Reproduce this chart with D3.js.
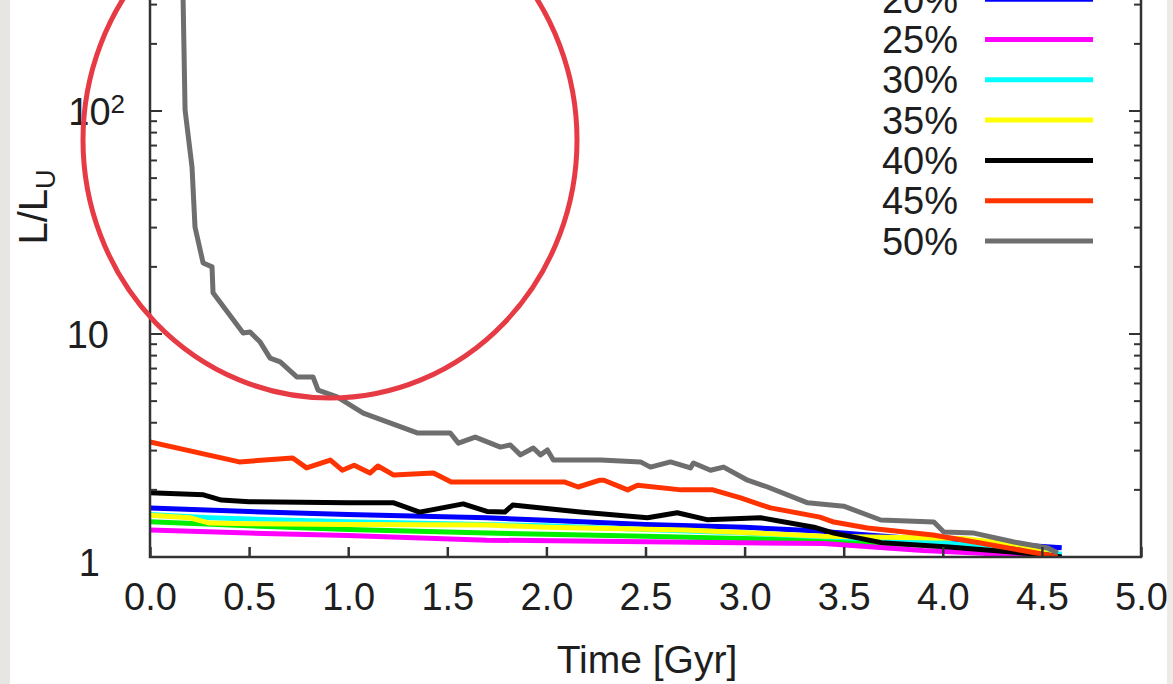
<!DOCTYPE html>
<html>
<head>
<meta charset="utf-8">
<script src="https://cdn.jsdelivr.net/npm/d3@7"></script>
<style>
  html, body { margin: 0; padding: 0; background: #fff; }
  svg { display: block; font-family: "Liberation Sans", Arial, Helvetica, sans-serif; }
</style>
</head>
<body>
<div id="chart"></div>
<script>
// series names (legend order, top of legend is cut off by the crop)
var seriesNames = ["15%", "20%", "25%", "30%", "35%", "40%", "45%", "50%"];

// each series: [time in Gyr, L/L_U]
var s15 = [[0, 1.44], [0.5, 1.38], [1.0, 1.33], [1.7, 1.28], [2.5, 1.24], [3.35, 1.19], [4.0, 1.12], [4.58, 1.0]];
var s20 = [[0, 1.66], [0.5, 1.60], [1.0, 1.55], [1.7, 1.50], [2.0, 1.46], [2.5, 1.40], [3.0, 1.36], [3.35, 1.31], [3.8, 1.22], [4.2, 1.16], [4.6, 1.10]];
var s25 = [[0, 1.32], [0.5, 1.28], [1.0, 1.25], [1.7, 1.19], [2.5, 1.17], [3.4, 1.15], [3.9, 1.07], [4.2, 1.04], [4.45, 1.0]];
var s30 = [[0, 1.55], [0.3, 1.50], [0.5, 1.48], [1.0, 1.44], [2.0, 1.38], [2.5, 1.33], [3.0, 1.28], [3.5, 1.22], [4.0, 1.16], [4.6, 1.03]];
var s35 = [[0, 1.54], [0.2, 1.50], [0.3, 1.42], [0.5, 1.41], [1.0, 1.40], [1.7, 1.39], [2.0, 1.36], [2.7, 1.32], [3.4, 1.24], [4.1, 1.21], [4.4, 1.13], [4.58, 1.0]];
var s40 = [[0, 1.94], [0.27, 1.90], [0.36, 1.80], [0.5, 1.77], [1.0, 1.75], [1.23, 1.75], [1.36, 1.59], [1.58, 1.73], [1.70, 1.60], [1.79, 1.59],
           [1.83, 1.71], [2.17, 1.59], [2.51, 1.50], [2.66, 1.58], [2.81, 1.47], [3.08, 1.50], [3.35, 1.36], [3.45, 1.28], [3.69, 1.16],
           [4.03, 1.11], [4.53, 1.02], [4.6, 1.0]];
var s45 = [[0, 3.28], [0.45, 2.67], [0.72, 2.78], [0.79, 2.51], [0.91, 2.72], [0.97, 2.45], [1.03, 2.58], [1.11, 2.38], [1.15, 2.56],
           [1.23, 2.33], [1.43, 2.38], [1.52, 2.17], [2.09, 2.17], [2.16, 2.06], [2.27, 2.21], [2.29, 2.21], [2.41, 2.0], [2.46, 2.10],
           [2.68, 2.0], [2.84, 2.0], [2.98, 1.84], [3.13, 1.66], [3.38, 1.51], [3.45, 1.435], [3.62, 1.35], [3.95, 1.255], [4.19, 1.155],
           [4.53, 1.02], [4.58, 1.0]];
var s50 = [[0.16, 400], [0.167, 315], [0.177, 101], [0.212, 56], [0.227, 30.2], [0.268, 20.8], [0.313, 20.0], [0.318, 15.3], [0.47, 10.1],
           [0.505, 10.2], [0.556, 9.2], [0.606, 7.8], [0.657, 7.5], [0.742, 6.41], [0.823, 6.41], [0.848, 5.6], [0.944, 5.22], [1.076, 4.42],
           [1.348, 3.60], [1.515, 3.60], [1.556, 3.24], [1.641, 3.45], [1.768, 3.11], [1.818, 3.18], [1.869, 2.87], [1.934, 3.08], [1.97, 2.87],
           [2.005, 3.02], [2.035, 2.72], [2.273, 2.72], [2.475, 2.67], [2.525, 2.53], [2.626, 2.67], [2.727, 2.51], [2.742, 2.64], [2.828, 2.45],
           [2.894, 2.53], [3.015, 2.21], [3.116, 2.06], [3.318, 1.75], [3.5, 1.69], [3.687, 1.465], [3.955, 1.435], [4.005, 1.295], [4.157, 1.28],
           [4.359, 1.167], [4.53, 1.097], [4.58, 1.042]];
var seriesValues = [s15, s20, s25, s30, s35, s40, s45, s50];

var xTicks = [0, 0.5, 1, 1.5, 2, 2.5, 3, 3.5, 4, 4.5, 5];
var yTicks = [1, 10, 100, 1000];
var yLabelTicks = [1, 10, 100];

var colors = ["#00ee00", "#0000ff", "#ff00ff", "#00ffff", "#ffff00", "#000000", "#ff3300", "#6e6e6e"];

var W = 1173, H = 684;
var left = 150, right = 1141, bottom = 557, decade = 223;
var fs = 38;

var svg = d3.select("#chart").append("svg")
  .attr("width", W)
  .attr("height", H);

// grey page edges
svg.append("rect").attr("x", 0).attr("y", 0).attr("width", 10).attr("height", H).attr("fill", "#e8e6e2");
svg.append("rect").attr("x", 1167).attr("y", 0).attr("width", 6).attr("height", H).attr("fill", "#ecebe8");

var x = d3.scaleLinear().domain([0, 5]).range([left, right]);
var y = d3.scaleLog().domain([1, 1000]).range([bottom, bottom - 3 * decade]);

svg.append("clipPath").attr("id", "clip")
  .append("rect")
  .attr("x", left).attr("y", y(1000))
  .attr("width", right - left).attr("height", bottom - y(1000));

// data lines
var line = d3.line()
  .x(function(d) { return x(d[0]); })
  .y(function(d) { return y(d[1]); });

svg.append("g").attr("clip-path", "url(#clip)")
  .selectAll("path")
  .data(seriesValues)
  .enter()
  .append("path")
    .attr("d", line)
    .attr("fill", "none")
    .attr("stroke", function(d, i) { return colors[i]; })
    .attr("stroke-width", 5)
    .attr("stroke-linejoin", "round");

// frame
svg.append("rect")
  .attr("x", left).attr("y", y(1000))
  .attr("width", right - left).attr("height", bottom - y(1000))
  .attr("fill", "none").attr("stroke", "#333").attr("stroke-width", 2.5);

// x axis (ticks point inward)
var xAxis = svg.append("g")
  .attr("transform", "translate(0," + bottom + ")")
  .call(d3.axisBottom(x).tickValues(xTicks).tickFormat(d3.format(".1f")).tickSizeInner(-10).tickSizeOuter(0).tickPadding(26));
xAxis.select(".domain").remove();
xAxis.selectAll("line").attr("stroke", "#333").attr("stroke-width", 2.5);
xAxis.selectAll("text").attr("font-size", fs).attr("fill", "#1e1e1e").attr("font-family", null);

// y axis major + minor ticks, left and right
var minor = y.ticks().filter(function(v) { return yTicks.indexOf(v) < 0; });
[left, right].forEach(function(px) {
  var dir = px === left ? 1 : -1;
  svg.append("g").selectAll("line")
    .data(yTicks.concat(minor))
    .enter().append("line")
      .attr("x1", px)
      .attr("x2", function(d) { return px + dir * (yTicks.indexOf(d) >= 0 ? 12 : 7); })
      .attr("y1", function(d) { return y(d); })
      .attr("y2", function(d) { return y(d); })
      .attr("stroke", "#333").attr("stroke-width", 2);
});

// y tick labels
var yLab = svg.append("g").attr("font-size", fs).attr("fill", "#1e1e1e");
yLabelTicks.forEach(function(v) {
  var e = Math.round(Math.log10(v));
  var t = yLab.append("text")
    .attr("y", y(v))
    .attr("dy", "0.36em")
    .attr("text-anchor", "end");
  if (e === 0) {
    t.attr("x", 100).attr("dy", "0.5em").text("1");
  } else if (e === 1) {
    t.attr("x", 109).text("10");
  } else {
    t.attr("x", 125);
    t.append("tspan").text("10");
    t.append("tspan").attr("dy", "-0.45em").attr("font-size", 26).text(e);
  }
});

// axis titles
svg.append("text")
  .attr("x", 647).attr("y", 673)
  .attr("text-anchor", "middle")
  .attr("font-size", 39).attr("fill", "#1e1e1e")
  .text("Time [Gyr]");

var yt = svg.append("text")
  .attr("transform", "translate(47,207) rotate(-90)")
  .attr("text-anchor", "middle")
  .attr("font-size", 40).attr("fill", "#1e1e1e");
yt.append("tspan").text("L/L");
yt.append("tspan").attr("dy", "0.3em").attr("font-size", 27).text("U");

// legend
var legend = svg.append("g")
  .selectAll("g")
  .data(seriesNames)
  .enter().append("g")
    .attr("transform", function(d, i) { return "translate(0," + (241 - (seriesNames.length - 1 - i) * 40.3) + ")"; });
legend.append("text")
  .attr("x", 958).attr("dy", "0.36em")
  .attr("text-anchor", "end")
  .attr("font-size", fs).attr("fill", "#1e1e1e")
  .text(function(d) { return d; });
legend.append("line")
  .attr("x1", 985).attr("x2", 1093)
  .attr("stroke", function(d, i) { return colors[i]; })
  .attr("stroke-width", 5);

// red annotation circle
svg.append("ellipse")
  .attr("cx", 330).attr("cy", 140)
  .attr("rx", 247).attr("ry", 258)
  .attr("fill", "none")
  .attr("stroke", "#e63a44")
  .attr("stroke-width", 5);
</script>
</body>
</html>
